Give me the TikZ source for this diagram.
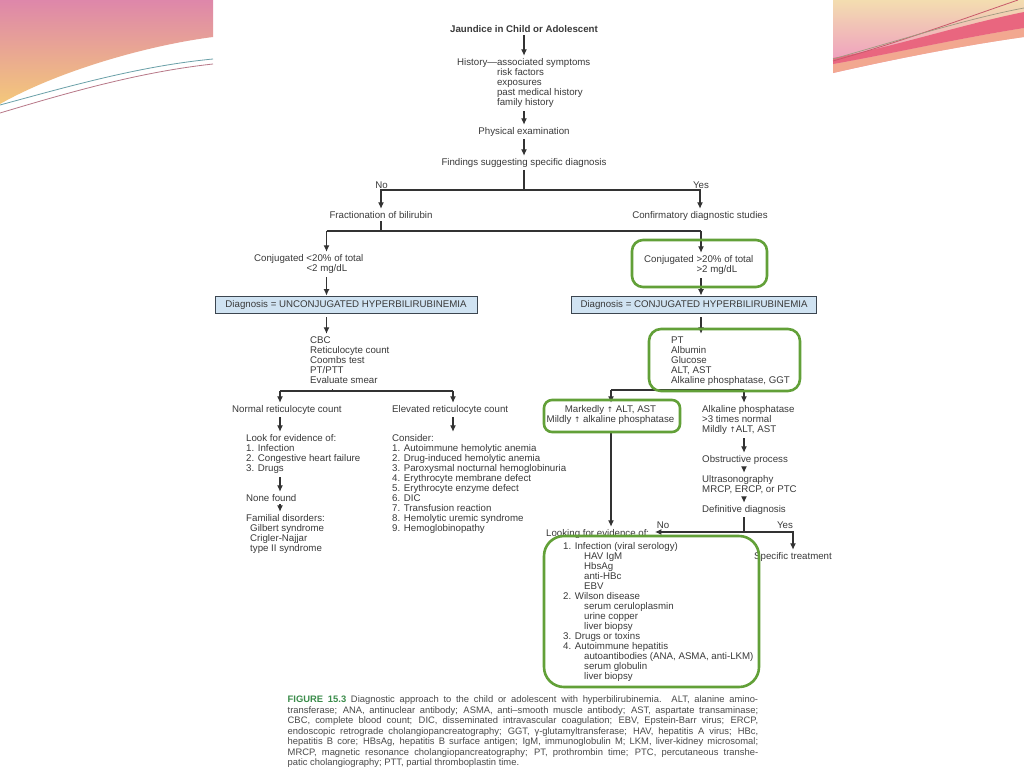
\documentclass[tikz,border=0pt]{standalone}
\usepackage{fontspec}
\setmainfont{Liberation Sans}
\newfontfamily\symfont{DejaVu Sans}
\usetikzlibrary{arrows.meta,calc}
\definecolor{txtgray}{HTML}{3A3A3A}
\definecolor{lngray}{HTML}{333333}
\definecolor{hlgreen}{RGB}{98,160,56}
\definecolor{bxfill}{RGB}{208,227,242}
\definecolor{bxborder}{RGB}{60,70,80}
\definecolor{capgreen}{RGB}{58,140,74}
\definecolor{captext}{HTML}{4A4A4A}
\definecolor{decpinkL}{HTML}{DE87AA}
\definecolor{decyellow}{HTML}{F4C87A}
\definecolor{decbeige}{HTML}{F3DDB0}
\definecolor{decpinkR}{HTML}{EE92C2}
\definecolor{decsalmon}{HTML}{F2A890}
\definecolor{decred}{HTML}{E9667F}
\definecolor{linepink}{HTML}{B87888}
\definecolor{lineteal}{HTML}{6AA0A8}
\definecolor{linered}{HTML}{C85A6A}
\definecolor{linegray}{HTML}{A09A80}
\newcommand\blk[1]{\begin{tabular}[t]{@{}l@{}}#1\end{tabular}}
\newcommand\cblk[1]{\begin{tabular}[t]{@{}c@{}}#1\end{tabular}}
\newcommand\upar{{\symfont\fontsize{7.5}{7.5}\selectfont ↑}}
\tikzset{
  txt/.style={inner sep=2.5pt, font=\fontsize{9.7}{10}\selectfont, text=txtgray},
  lt/.style={txt, anchor=base west},
  ct/.style={txt, anchor=base},
  ln/.style={draw=lngray, line width=1.1pt},
  arr/.style={ln, -{Latex[length=6.5pt,width=6pt]}},
  greenbox/.style={draw=hlgreen, line width=2.6pt, inner sep=0},
  bluebox/.style={txt, draw=bxborder, fill=bxfill, line width=0.8pt, inner sep=0, minimum height=17pt}
}
\begin{document}
\begin{tikzpicture}[x=1pt,y=-1pt]
\useasboundingbox (0,0) rectangle (1024,768);
\fill[white] (0,0) rectangle (1024,768);
% ---- decorations
\shade[top color=decpinkL, bottom color=decyellow] (0,0) -- (213,0) -- (213,37) .. controls (150,45) and (60,70) .. (0,104) -- cycle;
\draw[line width=0.8pt, linepink] (0,113) .. controls (70,92) and (140,72) .. (213,64);
\draw[line width=0.8pt, lineteal] (0,105) .. controls (70,86) and (140,66) .. (213,59);
\shade[top color=decbeige, bottom color=decpinkR] (833,0) -- (1024,0) -- (1024,37) .. controls (960,46) and (890,60) .. (833,73) -- cycle;
\fill[decsalmon] (833,73) .. controls (890,60) and (960,46) .. (1024,37) -- (1024,28) .. controls (960,38) and (890,54) .. (833,64) -- cycle;
\fill[decred] (833,64) .. controls (890,54) and (960,38) .. (1024,28) -- (1024,12) .. controls (960,25) and (890,48) .. (833,58) -- cycle;
\draw[line width=0.8pt, linered] (833,61) .. controls (900,42) and (960,20) .. (1018,0);
\draw[line width=0.7pt, linegray] (833,59) .. controls (900,40) and (970,18) .. (1024,8);
% ---- text nodes
\node[ct, font=\fontsize{9.7}{10}\selectfont\bfseries] (title) at (524,32.5) {Jaundice in Child or Adolescent};
\node[lt] (hist) at (454.5,65.5) {History—\blk{associated symptoms\\risk factors\\exposures\\past medical history\\family history}};
\node[ct] (phys) at (524,134.5) {Physical examination};
\node[ct] (find) at (524,165.5) {Findings suggesting specific diagnosis};
\node[ct] (no1) at (381.5,188.5) {No};
\node[ct] (yes1) at (701,188.5) {Yes};
\node[ct] (frac) at (381,218.5) {Fractionation of bilirubin};
\node[ct] (conf) at (700,218.5) {Confirmatory diagnostic studies};
\node[lt] (conjlow) at (251.5,261.5) {Conjugated \blk{<20\% of total\\<2 mg/dL}};
\node[lt] (conjhigh) at (641.5,262.5) {Conjugated \blk{>20\% of total\\>2 mg/dL}};
\node[bluebox, minimum width=262pt] (diagU) at (346,304.5) {Diagnosis = UNCONJUGATED HYPERBILIRUBINEMIA};
\node[bluebox, minimum width=245pt] (diagC) at (694,304.5) {Diagnosis = CONJUGATED HYPERBILIRUBINEMIA};
\node[lt] (cbc) at (307.5,343.5) {\blk{CBC\\Reticulocyte count\\Coombs test\\PT/PTT\\Evaluate smear}};
\node[lt] (labs) at (668.5,343.5) {\blk{PT\\Albumin\\Glucose\\ALT, AST\\Alkaline phosphatase, GGT}};
\node[lt] (normal) at (229.5,412.5) {Normal reticulocyte count};
\node[lt] (elevated) at (389.5,412.5) {Elevated reticulocyte count};
\node[lt] (look) at (243.5,441.5) {\blk{Look for evidence of:\\1. Infection\\2. Congestive heart failure\\3. Drugs}};
\node[lt] (none) at (243.5,501.5) {None found};
\node[lt] (familial) at (243.5,521.5) {\blk{Familial disorders:\\\hspace*{4pt}Gilbert syndrome\\\hspace*{4pt}Crigler-Najjar\\\hspace*{4pt}type II syndrome}};
\node[lt] (consider) at (389.5,441.5) {\blk{Consider:\\1. Autoimmune hemolytic anemia\\2. Drug-induced hemolytic anemia\\3. Paroxysmal nocturnal hemoglobinuria\\4. Erythrocyte membrane defect\\5. Erythrocyte enzyme defect\\6. DIC\\7. Transfusion reaction\\8. Hemolytic uremic syndrome\\9. Hemoglobinopathy}};
\node[ct] (marked) at (610.5,412.5) {\cblk{Markedly \upar\ ALT, AST\\Mildly \upar\ alkaline phosphatase}};
\node[lt] (alk) at (699.5,412.5) {\blk{Alkaline phosphatase\\>3 times normal\\Mildly \upar ALT, AST}};
\node[lt] (obstr) at (699.5,462.5) {Obstructive process};
\node[lt] (ultra) at (699.5,482.5) {\blk{Ultrasonography\\MRCP, ERCP, or PTC}};
\node[lt] (defin) at (699.5,512.5) {Definitive diagnosis};
\node[ct] (no2) at (663,528.5) {No};
\node[ct] (yes2) at (785,528.5) {Yes};
\node[lt] (lookev) at (543.5,536.5) {Looking for evidence of:};
\node[ct] (spec) at (793,559.5) {Specific treatment};
\node[lt] (evlist) at (560.5,549.5) {\blk{1. Infection (viral serology)\\\hspace*{21pt}HAV IgM\\\hspace*{21pt}HbsAg\\\hspace*{21pt}anti-HBc\\\hspace*{21pt}EBV\\2. Wilson disease\\\hspace*{21pt}serum ceruloplasmin\\\hspace*{21pt}urine copper\\\hspace*{21pt}liver biopsy\\3. Drugs or toxins\\4. Autoimmune hepatitis\\\hspace*{21pt}autoantibodies (ANA, ASMA, anti-LKM)\\\hspace*{21pt}serum globulin\\\hspace*{21pt}liver biopsy}};
% ---- caption
\node[anchor=north west, inner sep=0, text width=470.5pt, align=justify, text=captext, font=\fontsize{9.4}{10.45}\selectfont] (cap) at (287.5,695.8) {\tolerance=9999\emergencystretch=30pt\hyphenpenalty=10000\exhyphenpenalty=10000
\textcolor{capgreen}{\textbf{FIGURE 15.3}} Diagnostic approach to the child or adolescent with hyperbilirubinemia. ALT, alanine amino-\linebreak
transferase; ANA, antinuclear antibody; ASMA, anti–smooth muscle antibody; AST, aspartate transaminase;\linebreak
CBC, complete blood count; DIC, disseminated intravascular coagulation; EBV, Epstein-Barr virus; ERCP,\linebreak
endoscopic retrograde cholangiopancreatography; GGT, γ-glutamyltransferase; HAV, hepatitis A virus; HBc,\linebreak
hepatitis B core; HBsAg, hepatitis B surface antigen; IgM, immunoglobulin M; LKM, liver-kidney microsomal;\linebreak
MRCP, magnetic resonance cholangiopancreatography; PT, prothrombin time; PTC, percutaneous transhe-\linebreak
patic cholangiography; PTT, partial thromboplastin time.};
% ---- junction coordinates
\coordinate (j1) at (524,190);
\coordinate (j2) at (381,231);
\coordinate (j2L) at (326.5,231);
\coordinate (j2R) at (701,231);
\coordinate (j3) at (332.5,391);
\coordinate (j3L) at (280,391);
\coordinate (j3R) at (453,391);
\coordinate (j4) at (689,390);
\coordinate (j4L) at (611,390);
\coordinate (j4R) at (744,390);
\coordinate (j5) at (744,532);
\coordinate (j5R) at (793,532);
% ---- connectors
\draw[arr] (title) -- (hist.north -| title);
\draw[arr] (hist.south -| title) -- (phys);
\draw[arr] (phys) -- (find);
\draw[ln] (find) -- (j1);
\draw[arr] (j1) -| (frac);
\draw[arr] (j1) -| (conf);
\draw[ln] (frac) -- (j2);
\draw[ln] (j2L) -- (j2R);
\draw[arr] (j2L) -- (j2L |- conjlow.north);
\draw[arr] (j2R) -- (j2R |- conjhigh.north);
\draw[arr] (conjlow.south -| j2L) -- (j2L |- diagU.north);
\draw[arr] (conjhigh.south -| j2R) -- (j2R |- diagC.north);
\draw[arr, shorten <=4pt] (diagU.south -| j2L) -- (j2L |- cbc.north);
\draw[arr, shorten <=4pt] (diagC.south -| j2R) -- (j2R |- labs.north);
\draw[ln] (cbc.south -| j3) -- (j3);
\draw[ln] (j3L) -- (j3R);
\draw[arr] (j3L) -- (j3L |- normal.north);
\draw[arr] (j3R) -- (j3R |- elevated.north);
\draw[arr] (normal.south -| j3L) -- (j3L |- look.north);
\draw[arr] (elevated.south -| j3R) -- (j3R |- consider.north);
\draw[arr] (look.south -| j3L) -- (j3L |- none.north);
\draw[arr] (none.south -| j3L) -- (j3L |- familial.north);
\draw[ln] (labs.south -| j4) -- (j4);
\draw[ln] (j4L) -- (j4R);
\draw[arr] (j4L) -- (j4L |- marked.north);
\draw[arr] (j4R) -- (j4R |- alk.north);
\draw[arr, shorten <=5pt] (marked.south -| j4L) -- (j4L |- lookev.north);
\draw[arr] (alk.south -| j4R) -- (j4R |- obstr.north);
\draw[arr] (obstr.south -| j4R) -- (j4R |- ultra.north);
\draw[arr] (ultra.south -| j4R) -- (j4R |- defin.north);
\draw[ln] (defin.south -| j4R) -- (j5);
\draw[arr, shorten >=3pt] (j5) -- (j5 -| lookev.east);
\draw[arr] (j5) -| (spec);
% ---- green highlight boxes
\node[greenbox, rounded corners=11pt, minimum width=135pt, minimum height=47pt] (hl1) at (699.5,263.5) {};
\node[greenbox, rounded corners=12pt, minimum width=151pt, minimum height=62pt] (hl2) at (724.5,360) {};
\node[greenbox, rounded corners=8pt, minimum width=136pt, minimum height=32pt] (hl3) at (612,416) {};
\node[greenbox, rounded corners=20pt, minimum width=215pt, minimum height=151pt] (hl4) at (651.5,611.5) {};
\end{tikzpicture}
\end{document}
